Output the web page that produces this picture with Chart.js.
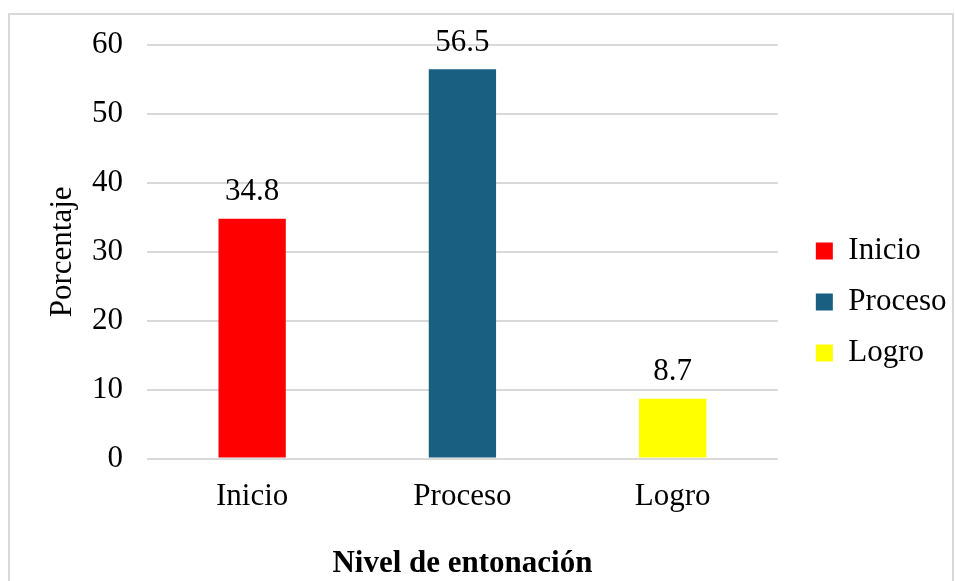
<!DOCTYPE html>
<html>
<head>
<meta charset="utf-8">
<script src="https://cdn.jsdelivr.net/npm/chart.js@4"></script>
<style>
  html, body { margin: 0; padding: 0; background: #fff; }
  #frame {
    position: absolute; left: 8px; top: 13px; width: 946px; height: 600px;
    border: 2px solid #d9d9d9; box-sizing: border-box;
  }
  #wrap { position: absolute; left: 0; top: 0; width: 955px; height: 581px; }
</style>
</head>
<body>
<div id="frame"></div>
<div id="wrap"><canvas id="myChart" width="955" height="581"></canvas></div>
<script>
// chart values
const categories = ["Inicio", "Proceso", "Logro"];
const percentages = [34.8, 56.5, 8.7];
const barColors = ["#ff0000", "#195f82", "#ffff00"];
const yTicks = [0, 10, 20, 30, 40, 50, 60];

const serif = "'Liberation Serif', 'Times New Roman', serif";
const fontSize = 31;

// one dataset per level so the legend shows three entries
const datasets = categories.map((name, i) => ({
  label: name,
  data: categories.map((c, j) => (j === i ? percentages[i] : null)),
  backgroundColor: barColors[i],
  borderWidth: 0,
  grouped: false,
  barPercentage: 0.32,
  categoryPercentage: 1,
}));

// draw value labels above each bar
const valueLabels = {
  id: "valueLabels",
  afterDatasetsDraw(chart) {
    const ctx = chart.ctx;
    ctx.save();
    ctx.font = fontSize + "px " + serif;
    ctx.fillStyle = "#000";
    ctx.textAlign = "center";
    ctx.textBaseline = "bottom";
    chart.data.datasets.forEach((ds, i) => {
      const meta = chart.getDatasetMeta(i);
      meta.data.forEach((bar, j) => {
        const v = ds.data[j];
        if (v === null) return;
        ctx.fillText(v.toFixed(1), bar.x, bar.y - 11);
      });
    });
    ctx.restore();
  },
};

const ctx = document.getElementById("myChart").getContext("2d");

const myChart = new Chart(ctx, {
  type: "bar",
  data: { labels: categories, datasets: datasets },
  options: {
    responsive: false,
    animation: false,
    layout: { padding: { top: 23, right: 8, left: 40, bottom: 0 } },
    plugins: {
      legend: {
        position: "right",
        labels: {
          font: { family: serif, size: fontSize },
          color: "#000",
          boxWidth: 17,
          boxHeight: 17,
          padding: 20,
        },
      },
      tooltip: { enabled: false },
    },
    scales: {
      x: {
        grid: { display: false },
        border: { display: false },
        ticks: {
          font: { family: serif, size: fontSize },
          color: "#000",
          padding: 12,
        },
        title: {
          display: true,
          text: "Nivel de entonación",
          font: { family: serif, size: fontSize, weight: "bold" },
          color: "#000",
          padding: { top: 18, bottom: -2 },
        },
      },
      // empty axis on top, only to push the plot down without moving the legend
      gapTop: {
        type: "linear",
        position: "top",
        display: true,
        grid: { display: false },
        border: { display: false },
        ticks: { display: false },
        afterFit(axis) {
          axis.height = 22;
        },
      },
      y: {
        min: 0,
        max: 60,
        afterBuildTicks(axis) {
          axis.ticks = yTicks.map((v) => ({ value: v }));
        },
        afterFit(axis) {
          axis.width = 107;
        },
        grid: { color: "#d9d9d9", lineWidth: 2, drawTicks: false },
        border: { display: false },
        ticks: {
          font: { family: serif, size: fontSize },
          color: "#000",
          padding: 24,
        },
        title: {
          display: true,
          text: "Porcentaje",
          font: { family: serif, size: fontSize },
          color: "#000",
          padding: { bottom: 0 },
        },
      },
      // empty axis on the right, only to leave a gap before the legend
      gap: {
        type: "linear",
        position: "right",
        display: true,
        grid: { display: false },
        border: { display: false },
        ticks: { display: false },
        afterFit(axis) {
          axis.width = 18;
        },
      },
    },
  },
  plugins: [valueLabels],
});
</script>
</body>
</html>
